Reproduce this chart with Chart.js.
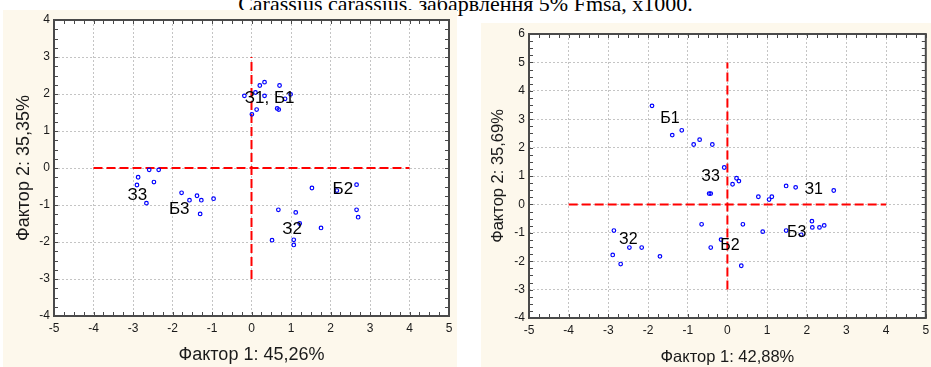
<!DOCTYPE html>
<html>
<head>
<meta charset="utf-8">
<script src="https://cdn.jsdelivr.net/npm/chart.js@4.4.1/dist/chart.umd.min.js"></script>
<style>
  body { margin: 0; background: #fff; width: 931px; height: 367px; overflow: hidden; position: relative; }
  .title { position: absolute; left: 0; top: -7px; width: 931px; text-align: center; white-space: nowrap;
           font: 22px/22px "Liberation Serif", "Times New Roman", serif; color: #000; }
  .panel { position: absolute; background: #fdf8ec; }
  .panel canvas { display: block; }
  #leftPanel { left: 3px; top: 10px; width: 454px; height: 357px; }
  #rightPanel { left: 481px; top: 23px; width: 450px; height: 344px; }
</style>
</head>
<body>
<div class="title">Carassius carassius, забарвлення 5% Fmsa, x1000.</div>
<div class="panel" id="leftPanel"><canvas id="leftChart" width="454" height="357"></canvas></div>
<div class="panel" id="rightPanel"><canvas id="rightChart" width="450" height="344"></canvas></div>
<script>
// Left chart: factor scores
const leftX = [0.21, 0.33, 0.71, -0.18, 0.10, 0.33, 0.99, 0.85, 0.13, 0.01, 0.65, 0.69,
               -2.59, -2.35, -2.87, -2.47, -2.90, -2.66,
               -1.77, -1.38, -1.57, -1.27, -0.96, -1.30,
               1.53, 2.16, 2.66, 0.68, 1.12, 1.22, 1.76, 2.66, 2.70, 0.52, 1.07, 1.07];
const leftY = [2.23, 2.32, 2.23, 1.95, 2.04, 1.95, 1.99, 1.87, 1.58, 1.45, 1.61, 1.58,
               -0.05, -0.05, -0.25, -0.38, -0.46, -0.95,
               -0.67, -0.75, -0.87, -0.87, -0.83, -1.24,
               -0.54, -0.61, -0.45, -1.13, -1.20, -1.50, -1.62, -1.13, -1.33, -1.95, -1.94, -2.08];
const leftLabels = ['З1, Б1', 'З3', 'Б3', 'Б2', 'З2'];
const leftLabelX = [-0.17, -3.14, -2.09, 2.05, 0.78];
const leftLabelY = [1.75, -0.87, -1.25, -0.71, -1.79];
const leftHLine = [-4, 4];
const leftVLine = [-3, 3];

// Right chart: factor scores
const rightX = [-1.90, -1.39, -1.15, -0.85, -0.70, -0.38,
                -0.08, 0.23, 0.29, 0.13, -0.46, -0.42,
                0.78, 1.05, 1.12, 1.48, 1.72, 2.68,
                1.48, 1.86, 2.13, 2.14, 2.32, 2.44,
                -0.65, 0.39, 0.89, -0.16, -0.42, 0.35,
                -2.86, -2.47, -2.16, -2.89, -2.69, -1.70];
const rightY = [3.47, 2.44, 2.61, 2.11, 2.28, 2.11,
                1.30, 0.92, 0.82, 0.71, 0.38, 0.38,
                0.27, 0.17, 0.27, 0.65, 0.60, 0.49,
                -0.92, -1.07, -0.59, -0.81, -0.81, -0.74,
                -0.70, -0.70, -0.96, -1.24, -1.52, -2.16,
                -0.92, -1.52, -1.52, -1.78, -2.10, -1.83];
const rightLabels = ['Б1', 'З3', 'З1', 'Б3', 'Б2', 'З2'];
const rightLabelX = [-1.69, -0.66, 1.94, 1.50, -0.18, -2.73];
const rightLabelY = [2.86, 0.83, 0.37, -1.15, -1.60, -1.39];
const rightHLine = [-4, 4];
const rightVLine = [-3, 5];

Chart.defaults.font.family = 'Arial, "Liberation Sans", sans-serif';
Chart.defaults.color = '#1a1a1a';

const framePlugin = {
    id: 'frame',
    beforeDraw(chart) {
        const {ctx, chartArea: a} = chart;
        ctx.save();
        ctx.fillStyle = '#ffffff';
        ctx.fillRect(a.left, a.top, a.right - a.left, a.bottom - a.top);
        ctx.restore();
    },
    afterDatasetsDraw(chart, args, opts) {
        const {ctx, scales} = chart;
        ctx.save();
        ctx.fillStyle = '#000';
        ctx.font = opts.labelSize + 'px Arial, "Liberation Sans", sans-serif';
        ctx.textAlign = 'left';
        ctx.textBaseline = 'alphabetic';
        opts.labels.forEach((t, i) => {
            ctx.fillText(t, scales.x.getPixelForValue(opts.labelX[i]), scales.y.getPixelForValue(opts.labelY[i]));
        });
        ctx.restore();
    },
    afterDraw(chart) {
        const {ctx, chartArea: a, scales} = chart;
        ctx.save();
        ctx.strokeStyle = '#4a4a4a';
        ctx.lineWidth = 1;
        ctx.beginPath();
        // minor ticks pointing inward, every 0.25
        const xs = scales.x, ys = scales.y;
        for (let i = 0; i <= (xs.max - xs.min) * 4; i++) {
            const px = Math.round(xs.getPixelForValue(xs.min + i / 4)) + 0.5;
            ctx.moveTo(px, a.top); ctx.lineTo(px, a.top + 4);
            ctx.moveTo(px, a.bottom); ctx.lineTo(px, a.bottom - 4);
        }
        for (let i = 0; i <= (ys.max - ys.min) * 4; i++) {
            const py = Math.round(ys.getPixelForValue(ys.min + i / 4)) + 0.5;
            ctx.moveTo(a.left, py); ctx.lineTo(a.left + 4, py);
            ctx.moveTo(a.right, py); ctx.lineTo(a.right - 4, py);
        }
        ctx.stroke();
        ctx.lineWidth = 2;
        ctx.strokeRect(a.left, a.top, a.right - a.left, a.bottom - a.top);
        ctx.restore();
    }
};

function fixWidth(w) {
    return function(scale) {
        scale.width = w;
        scale.paddingLeft = scale.paddingRight = scale.paddingTop = scale.paddingBottom = 0;
    };
}
function fixHeight(h) {
    return function(scale) {
        scale.height = h;
        scale.paddingLeft = scale.paddingRight = scale.paddingTop = scale.paddingBottom = 0;
    };
}

function makeChart(id, c) {
    const points = c.xs.map((x, i) => ({x: x, y: c.ys[i]}));
    return new Chart(document.getElementById(id), {
        type: 'scatter',
        data: {
            datasets: [
                {
                    data: points,
                    pointStyle: 'circle',
                    pointRadius: 1.8,
                    pointBorderWidth: 1.2,
                    borderColor: '#0000ff',
                    backgroundColor: 'rgba(0,0,0,0)'
                },
                {
                    type: 'line',
                    data: [{x: c.hLine[0], y: 0}, {x: c.hLine[1], y: 0}],
                    borderColor: '#ff0000',
                    borderWidth: 2,
                    borderDash: [9, 4],
                    pointRadius: 0,
                    fill: false
                },
                {
                    type: 'line',
                    data: [{x: 0, y: c.vLine[0]}, {x: 0, y: c.vLine[1]}],
                    borderColor: '#ff0000',
                    borderWidth: 2,
                    borderDash: [9, 4],
                    pointRadius: 0,
                    fill: false
                }
            ]
        },
        options: {
            responsive: false,
            animation: false,
            layout: { padding: c.padding },
            plugins: {
                legend: { display: false },
                tooltip: { enabled: false },
                frame: { labels: c.labels, labelX: c.labelX, labelY: c.labelY, labelSize: c.labelSize }
            },
            scales: {
                x: {
                    type: 'linear',
                    min: -5, max: 5,
                    afterFit: fixHeight(c.xHeight),
                    ticks: { stepSize: 1, padding: 5, font: { size: 12 }, color: '#1a1a1a' },
                    grid: { color: '#c4c4c4', drawTicks: false },
                    border: { display: false, dash: [2, 2] },
                    title: { display: true, text: c.xTitle, font: { size: c.titleSize }, color: '#1a1a1a', padding: { top: 0, bottom: c.xTitlePad } }
                },
                y: {
                    type: 'linear',
                    min: -4, max: c.yMax,
                    afterFit: fixWidth(c.yWidth),
                    ticks: { stepSize: 1, padding: 4, font: { size: 12 }, color: '#1a1a1a' },
                    grid: { color: '#c4c4c4', drawTicks: false },
                    border: { display: false, dash: [2, 2] },
                    title: { display: true, text: c.yTitle, font: { size: c.titleSize }, color: '#1a1a1a', padding: { top: c.yTitlePad, bottom: 0 } }
                }
            }
        },
        plugins: [framePlugin]
    });
}

makeChart('leftChart', {
    xs: leftX, ys: leftY, hLine: leftHLine, vLine: leftVLine,
    labels: leftLabels, labelX: leftLabelX, labelY: leftLabelY, labelSize: 17,
    yMax: 4, padding: { left: 0, top: 10, right: 8, bottom: 0 },
    yWidth: 51, xHeight: 51, titleSize: 18, xTitlePad: 1, yTitlePad: 10,
    xTitle: 'Фактор 1: 45,26%', yTitle: 'Фактор 2: 35,35%'
});

makeChart('rightChart', {
    xs: rightX, ys: rightY, hLine: rightHLine, vLine: rightVLine,
    labels: rightLabels, labelX: rightLabelX, labelY: rightLabelY, labelSize: 16,
    yMax: 6, padding: { left: 0, top: 11, right: 4, bottom: 0 },
    yWidth: 48, xHeight: 49, titleSize: 16.5, xTitlePad: 0, yTitlePad: 8,
    xTitle: 'Фактор 1: 42,88%', yTitle: 'Фактор 2: 35,69%'
});
</script>
</body>
</html>
